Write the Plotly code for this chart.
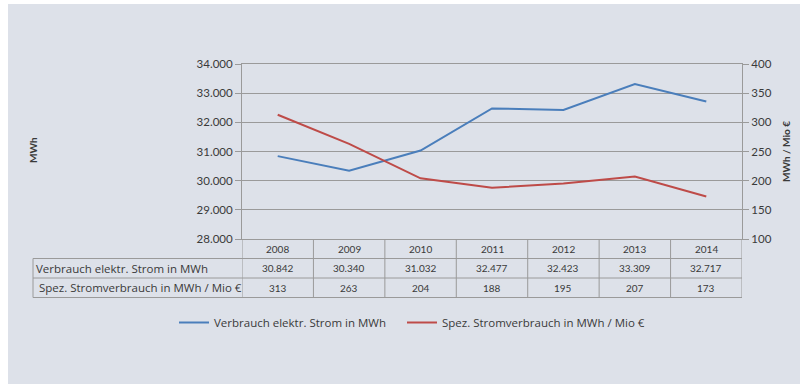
import plotly.graph_objects as go

years = ["2008", "2009", "2010", "2011", "2012", "2013", "2014"]
verbrauch = [30842, 30340, 31032, 32477, 32423, 33309, 32717]
spez = [313, 263, 204, 188, 195, 207, 173]
name_v = "Verbrauch elektr. Strom in MWh"
name_s = "Spez. Stromverbrauch in MWh / Mio €"
left_title = "MWh"
right_title = "MWh / Mio €"

BLUE = "#4a7ebb"
RED = "#be4b48"
GRID = "#9a9a9a"
TXT = "#3a3a3a"
BG = "#dde1e9"
FONT = "Lato"
FONT2 = "Open Sans"

W, H = 800, 385
L, R, T, B = 242, 58, 64, 146
PW, PH = W - L - R, H - T - B


def px_x(p):
    return (p - L) / PW


def px_y(p):
    return (H - B - p) / PH


def de(n):
    return f"{n:,}".replace(",", ".")


fig = go.Figure()
fig.add_trace(go.Scatter(x=years, y=verbrauch, name=name_v, mode="lines",
                         line=dict(color=BLUE, width=2), legend="legend"))
fig.add_trace(go.Scatter(x=years, y=spez, name=name_s, mode="lines",
                         line=dict(color=RED, width=2), yaxis="y2", legend="legend2"))

shapes = []
shapes.append(dict(type="rect", xref="paper", yref="paper", layer="below",
                   x0=px_x(8), x1=px_x(800), y0=px_y(384), y1=px_y(4),
                   fillcolor=BG, line=dict(width=0)))

row_h = 19.5
rows_px = [H - B, H - B + row_h, H - B + 2 * row_h, H - B + 3 * row_h]
rows = [px_y(p) for p in rows_px]
tab_left = px_x(33)
line = dict(color=GRID, width=1)
for yy in rows[1:]:
    shapes.append(dict(type="line", xref="paper", yref="paper",
                       x0=tab_left, x1=1, y0=yy, y1=yy, line=line))
shapes.append(dict(type="line", xref="paper", yref="paper",
                   x0=tab_left, x1=tab_left, y0=rows[1], y1=rows[3], line=line))
for i in range(len(years) + 1):
    shapes.append(dict(type="line", xref="x", yref="paper",
                       x0=i - 0.5, x1=i - 0.5, y0=rows[0], y1=rows[3], line=line))

ann = []
cell_font = dict(size=10, color=TXT, family=FONT)
for i, yv in enumerate(years):
    for r, txt in enumerate([yv, de(verbrauch[i]), str(spez[i])]):
        ann.append(dict(x=i, xref="x", yref="paper", y=(rows[r] + rows[r + 1]) / 2,
                        xanchor="center", yanchor="middle",
                        text=txt, showarrow=False, font=cell_font))
lab_font = dict(size=11.5, color=TXT, family=FONT2)
ann.append(dict(x=px_x(34), xref="paper", yref="paper", y=(rows[1] + rows[2]) / 2,
                xanchor="left", yanchor="middle", text=name_v, showarrow=False, font=lab_font))
ann.append(dict(x=px_x(37), xref="paper", yref="paper", y=(rows[2] + rows[3]) / 2,
                xanchor="left", yanchor="middle", text=name_s, showarrow=False, font=lab_font))
ann.append(dict(x=px_x(33), xref="paper", yref="paper", y=px_y(150), textangle=-90,
                xanchor="center", yanchor="middle",
                text=f"<b>{left_title}</b>", showarrow=False, font=dict(size=10, color=TXT)))
ann.append(dict(x=px_x(786), xref="paper", yref="paper", y=px_y(152), textangle=-90,
                xanchor="center", yanchor="middle",
                text=f"<b>{right_title}</b>", showarrow=False, font=dict(size=10, color=TXT)))

leg_common = dict(orientation="h", xanchor="left", yanchor="top", y=px_y(308),
                  bgcolor="rgba(0,0,0,0)", font=dict(size=11.5, color=TXT, family=FONT2),
                  itemwidth=30)

fig.update_layout(
    width=W, height=H,
    margin=dict(l=L, r=R, t=T, b=B),
    paper_bgcolor="white", plot_bgcolor="rgba(0,0,0,0)",
    separators=",.",
    font=dict(family=FONT, color=TXT),
    showlegend=True,
    legend=dict(x=px_x(174), **leg_common),
    legend2=dict(x=px_x(402), **leg_common),
    xaxis=dict(type="category", range=[-0.5, len(years) - 0.5], showticklabels=False,
               ticks="", showgrid=False, showline=True, mirror=True, linecolor=GRID,
               linewidth=1, zeroline=False, fixedrange=True),
    yaxis=dict(range=[28000, 34000], dtick=1000, tickformat=",.0f", showgrid=True,
               gridcolor=GRID, gridwidth=1, ticks="outside", ticklen=6, tickcolor=GRID,
               showline=True, linecolor=GRID, zeroline=False,
               tickfont=dict(size=11.5, color=TXT)),
    yaxis2=dict(range=[100, 400], dtick=50, overlaying="y", side="right", showgrid=False,
                ticks="outside", ticklen=6, tickcolor=GRID, showline=True, linecolor=GRID,
                zeroline=False, tickfont=dict(size=11.5, color=TXT)),
    shapes=shapes, annotations=ann,
)

fig.write_html("out.html")
